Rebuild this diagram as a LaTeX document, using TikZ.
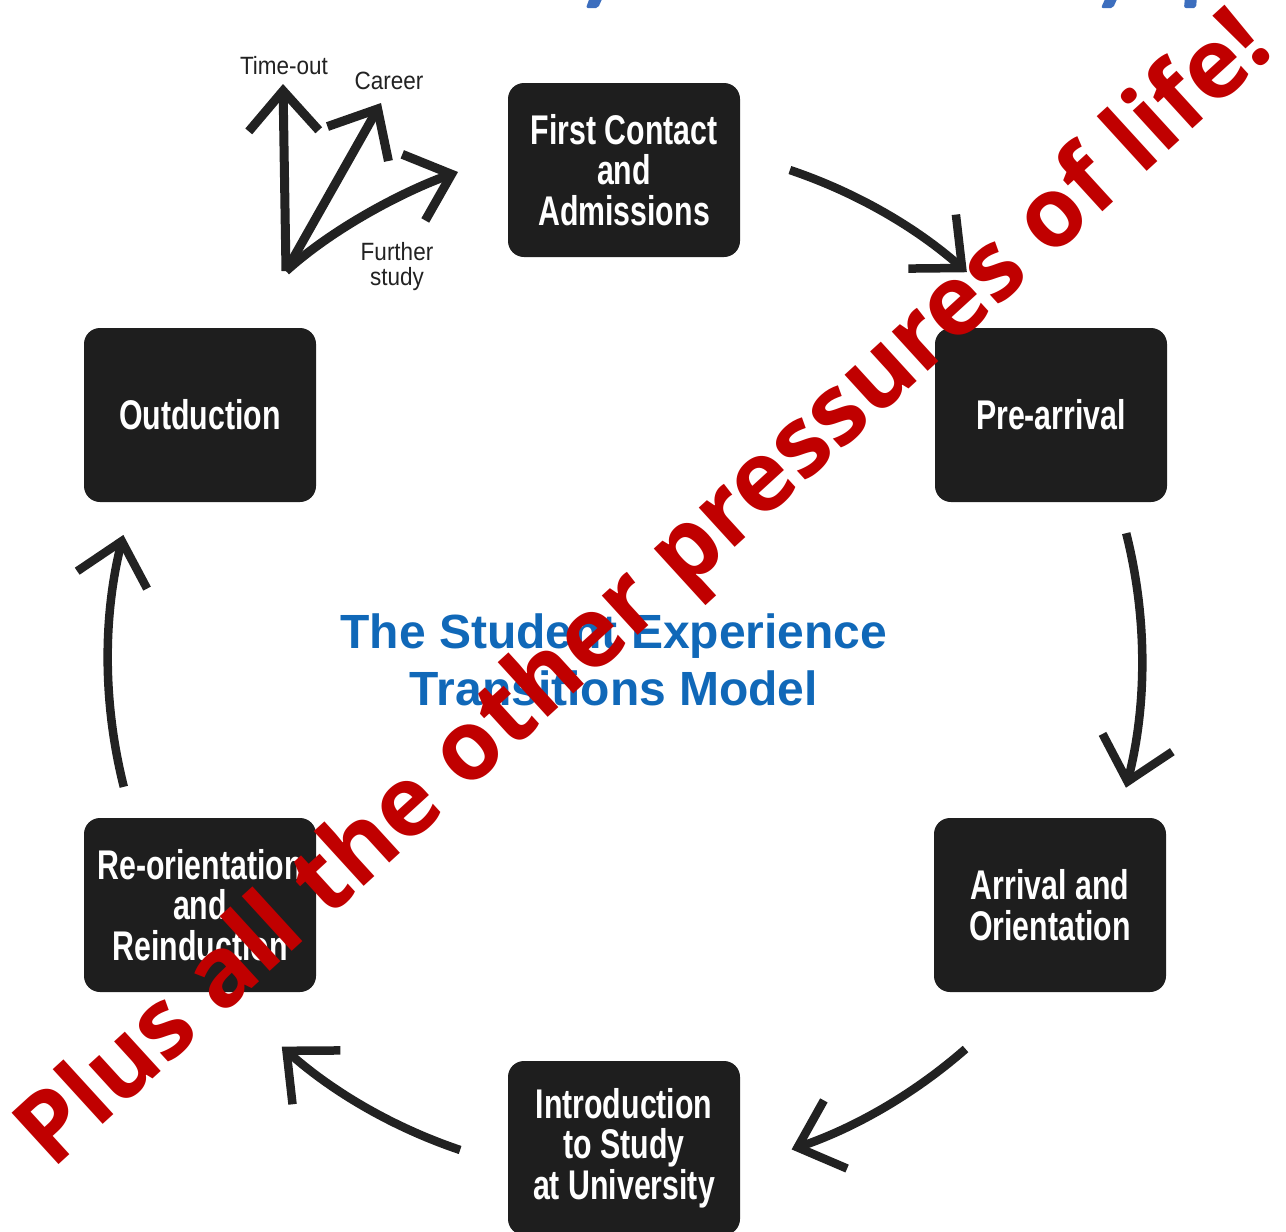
\documentclass[tikz,border=0pt]{standalone}
\usepackage{fontspec}
\usetikzlibrary{arrows.meta,calc}
\setmainfont{Liberation Sans}
\newfontfamily\boxfont[FakeStretch=0.73]{Liberation Sans}
\newfontfamily\forkfont[FakeStretch=0.9]{Liberation Sans}
\newfontfamily\slogan{Open Sans}
\definecolor{boxfill}{RGB}{30,30,30}
\definecolor{inkline}{RGB}{34,34,34}
\definecolor{titleblue}{RGB}{16,104,184}
\definecolor{stampred}{RGB}{192,0,0}
\definecolor{headblue}{RGB}{60,110,190}

\begin{document}
\begin{tikzpicture}[x=1pt,y=-1pt,
  stagebox/.style={fill=boxfill, rounded corners=16pt, minimum width=232pt,
    minimum height=174pt, inner sep=0pt, align=center, text=white,
    font=\boxfont\bfseries\fontsize{41.5}{40.5}\selectfont},
  cyclearrow/.style={draw=inkline, line width=8.5pt,
    -{Straight Barb[length=40pt,width=72pt]}},
  forkarrow/.style={draw=inkline, line width=9pt,
    -{Straight Barb[length=40pt,width=70pt]}},
  forklabel/.style={text=inkline, inner sep=0pt, align=center,
    font=\forkfont\fontsize{25}{25}\selectfont},
]
\useasboundingbox (0,0) rectangle (1286,1232);

% descenders of the heading line above the frame
\fill[headblue, rounded corners=2pt] (590,-3) -- (603,-3) -- (598,8) -- (586,8) -- cycle;
\fill[headblue, rounded corners=2pt] (1106,-3) -- (1118,-3) -- (1113,8) -- (1101,8) -- cycle;
\fill[headblue, rounded corners=2pt] (1185,-3) -- (1197,-3) -- (1196,8) -- (1184,8) -- cycle;

% the six stages
\node[stagebox] (contact)  at (624,170)  {First Contact\\and\\Admissions};
\node[stagebox] (prearr)   at (1051,415) {Pre-arrival};
\node[stagebox] (arrival)  at (1050,905) {Arrival and\\Orientation};
\node[stagebox] (intro)    at (624,1148) {Introduction\\to Study\\at University};
\node[stagebox] (reorient) at (200,905)  {Re-orientation\\and\\Reinduction};
\node[stagebox] (outduct)  at (200,415)  {Outduction};

% model title in the middle
\node[text=titleblue, align=center, inner sep=0pt,
      font=\bfseries\fontsize{48}{57}\selectfont] (title) at (614,660)
      {The Student Experience\\Transitions Model};

% cycle arrows on a common circle
\coordinate (hub) at (625,660);
\coordinate (c1) at ($(hub)+(-71.4:517)$);
\coordinate (c2) at ($(hub)+(-14.2:517)$);
\coordinate (c3) at ($(hub)+(48.8:517)$);
\coordinate (c4) at ($(hub)+(108.6:517)$);
\coordinate (c5) at ($(hub)+(165.8:517)$);
\draw[cyclearrow] (c1) arc[start angle=-71.4, end angle=-48.6, radius=517];
\draw[cyclearrow] (c2) arc[start angle=-14.2, end angle=14.3, radius=517];
\draw[cyclearrow] (c3) arc[start angle=48.8, end angle=71.2, radius=517];
\draw[cyclearrow] (c4) arc[start angle=108.6, end angle=131.6, radius=517];
\draw[cyclearrow] (c5) arc[start angle=165.8, end angle=194, radius=517];

% exits after outduction
\coordinate (forkbase)  at (286,271);
\coordinate (toutTip)   at (283,84);
\coordinate (careerTip) at (381,103);
\coordinate (studyTip)  at (458,172);
\draw[forkarrow] (forkbase) -- (toutTip);
\draw[forkarrow] (forkbase) -- (careerTip);
\draw[forkarrow] (forkbase) .. controls (338,224) and (412,188) .. (studyTip);
\node[forklabel] (tout)    at (284,66)  {Time-out};
\node[forklabel] (career)  at (389,81)  {Career};
\node[forklabel] (further) at (397,267) {Further\\study};

% diagonal slogan across everything
\node[text=stampred, inner sep=0pt, anchor=base west, rotate=42.4,
      font=\slogan\bfseries\fontsize{97.5}{97.5}\selectfont] (slogan) at (52,1171)
      {Plus all the other pressures of life!};
\end{tikzpicture}
\end{document}
